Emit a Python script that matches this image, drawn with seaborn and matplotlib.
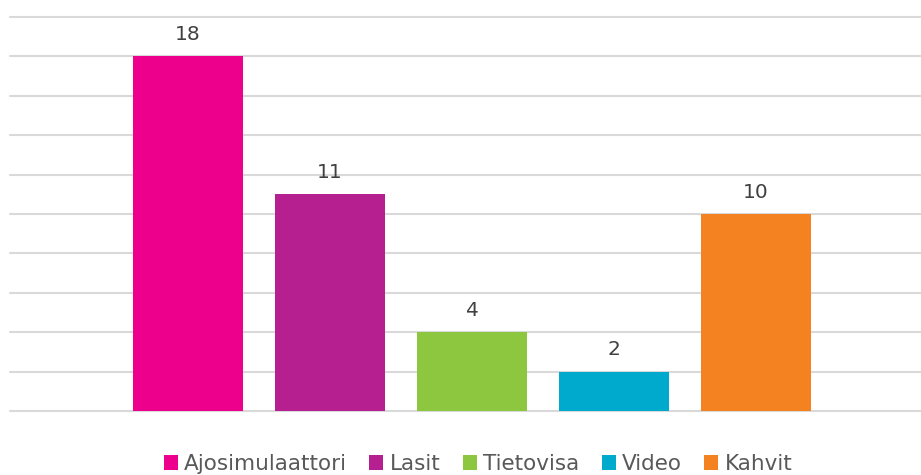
import matplotlib
matplotlib.use("Agg")
import matplotlib.pyplot as plt
import seaborn as sns
import pandas as pd
from matplotlib.patches import Patch

# data
series = ["Ajosimulaattori", "Lasit", "Tietovisa", "Video", "Kahvit"]
values = [18, 11, 4, 2, 10]
colors = ["#EC008C", "#B51F8F", "#8DC63F", "#00AACC", "#F58220"]

sns.set_style("white")
plt.rcParams['font.family'] = ['DejaVu Sans']

df = pd.DataFrame({"series": series, "value": values})

fig = plt.figure(figsize=(9.21, 4.75), dpi=100)
ax = fig.add_axes([10 / 921, 1 - 411 / 475, 911 / 921, (411 - 17) / 475])

sns.barplot(data=df, x="series", y="value", hue="series", palette=colors,
            width=0.78, saturation=1, legend=False, linewidth=0, ax=ax)

ax.set_ylim(0, 20)
ax.set_xlim(-1.2535, -1.2535 + 911 / 142)
ax.set_yticks(range(0, 21, 2))
ax.yaxis.grid(True, color="#d9d9d9", linewidth=1.5, clip_on=False)
ax.set_axisbelow(True)
ax.set_xticks([])
ax.set_yticklabels([])
ax.tick_params(left=False, bottom=False)
ax.set_xlabel("")
ax.set_ylabel("")
for s in ax.spines.values():
    s.set_visible(False)

for c in ax.containers:
    ax.bar_label(c, padding=9, fontsize=14.5, color="#404040")

handles = [Patch(facecolor=c, edgecolor="none") for c in colors]
fig.legend(handles, series, loc="center", bbox_to_anchor=(0.519, 11 / 475),
           ncol=5, frameon=False, fontsize=15.5, handlelength=0.65, handleheight=0.65,
           handletextpad=0.28, columnspacing=1.05, labelcolor="#595959",
           borderpad=0, borderaxespad=0)

fig.savefig("out.png", dpi=100)
